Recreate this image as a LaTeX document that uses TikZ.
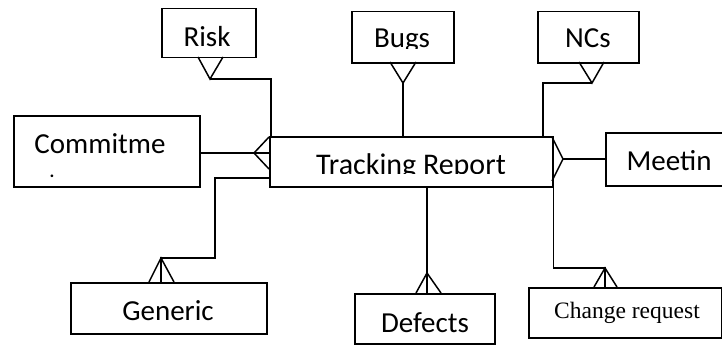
\documentclass[tikz,border=0pt]{standalone}
\usepackage{fontspec}
\setmainfont{Carlito}
\newfontfamily\serifcr{Liberation Serif}
\begin{document}
\begin{tikzpicture}[x=1pt,y=-1pt,line width=1.5pt,
  entity/.style={draw,rectangle,inner sep=0pt,anchor=north west},
  lbl/.style={anchor=base,inner sep=0pt,font=\fontsize{29}{31}\selectfont},
  serlbl/.style={anchor=base,inner sep=0pt,font=\serifcr\fontsize{23.5}{26}\selectfont}]
\useasboundingbox (0,0) rectangle (722,345);
\clip (0,0) rectangle (722,345);

% entity boxes
\node[entity,minimum width=94pt,minimum height=49pt]  (risk) at (161,8)   {};
\node[entity,minimum width=102pt,minimum height=51pt] (bugs) at (351,11)  {};
\node[entity,minimum width=101pt,minimum height=51pt] (ncs)  at (537,11)  {};
\node[entity,minimum width=186pt,minimum height=71pt] (com)  at (13,115)  {};
\node[entity,minimum width=283pt,minimum height=50pt] (tr)   at (269,136) {};
\node[entity,minimum width=140pt,minimum height=53pt] (meet) at (605,132) {};
\node[entity,minimum width=196pt,minimum height=51pt] (gen)  at (70,282)  {};
\node[entity,minimum width=140pt,minimum height=50pt] (def)  at (354,293) {};
\node[entity,minimum width=193pt,minimum height=50pt] (chg)  at (528,287) {};

% labels
\node[lbl] (risktxt) at (207,46) {Risk};
\begin{scope}
  \clip (351,11) rectangle (453,49);
  \node[lbl] (bugstxt) at (402,48) {Bugs};
\end{scope}
\node[lbl] (ncstxt) at (588,48) {NCs};
\node[lbl] (comtxt) at (100,153) {Commitme};
\node[lbl,font=\bfseries\fontsize{18}{20}\selectfont] (comdot) at (52,177) {.};
\begin{scope}
  \clip (269,136) rectangle (552,173);
  \node[lbl,font=\fontsize{30}{32}\selectfont] (trtxt) at (411,174) {Tracking Report};
\end{scope}
\node[lbl] (meettxt) at (669,170) {Meetin};
\node[lbl] (gentxt) at (168,320) {Generic};
\node[lbl] (deftxt) at (425,332) {Defects};
\node[serlbl] (chgtxt) at (627,318) {Change request};

% Risk -- Tracking Report
\coordinate (riskTip) at (210,79);
\draw (riskTip) -| ([xshift=2pt]tr.north west);
\draw (198,57) -- (riskTip) -- (223,57);

% Bugs -- Tracking Report
\coordinate (bugsTip) at (403,83);
\draw (bugsTip) -- (tr.north -| bugsTip);
\draw (390,62) -- (bugsTip) -- (416,62);

% NCs -- Tracking Report
\coordinate (ncTip) at (592,83);
\coordinate (ncDrop) at (543,136);
\draw (ncTip) -| (ncDrop);
\draw (579,62) -- (ncTip) -- (604,62);

% Commitment -- Tracking Report
\coordinate (comTip) at (254,153);
\draw (com.east |- comTip) -- (tr.west |- comTip);
\draw (269,137) -- (comTip) -- (269,169);

% Meeting -- Tracking Report
\coordinate (meetTip) at (563,159);
\draw (meetTip) -- (meet.west |- meetTip);
\draw (552,137) -- (meetTip) -- (552,181);

% Generic -- Tracking Report
\coordinate (genTip) at (161,258);
\coordinate (genBend) at (215,178);
\draw (tr.west |- genBend) -- (genBend) |- (genTip) -- (gen.north -| genTip);
\draw (149,282) -- (genTip) -- (174,282);

% Defects -- Tracking Report
\coordinate (defTip) at (427,273);
\draw (tr.south -| defTip) -- (def.north -| defTip);
\draw (416,293) -- (defTip) -- (441,293);

% Change request -- Tracking Report
\coordinate (chTip) at (605,268);
\draw (tr.south east) |- (chTip) -- (chg.north -| chTip);
\draw (594,287) -- (chTip) -- (617,287);
\end{tikzpicture}
\end{document}
